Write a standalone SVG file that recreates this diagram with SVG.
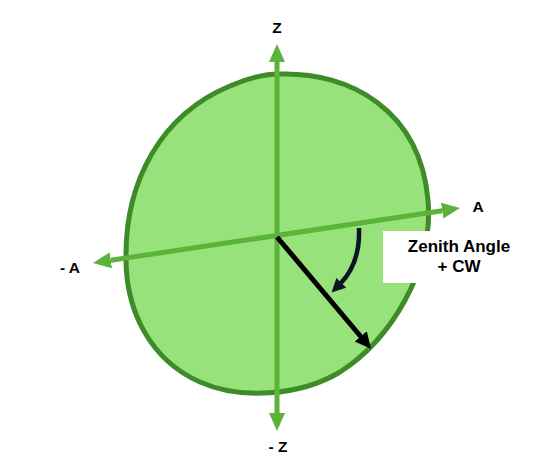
<svg xmlns="http://www.w3.org/2000/svg" width="542" height="476" viewBox="0 0 542 476">
<style>
.axis{stroke:#5bb33a;stroke-width:5;fill:none}
.lbl{font-family:"Liberation Sans",Arial,sans-serif;font-weight:bold;font-size:15.5px;fill:#000;text-anchor:middle}
.big{font-size:17px}
</style>
<defs>
<marker id="ga" markerUnits="userSpaceOnUse" markerWidth="20" markerHeight="18" refX="0" refY="8" orient="auto-start-reverse">
<path d="M0,0 L18,8 L0,16 Z" fill="#5bb33a"/>
</marker>
<marker id="ba" markerUnits="userSpaceOnUse" markerWidth="20" markerHeight="18" refX="2" refY="8" orient="auto">
<path d="M0,0 L16,8 L0,16 Z" fill="#000"/>
</marker>
<marker id="ca" markerUnits="userSpaceOnUse" markerWidth="18" markerHeight="16" refX="2" refY="7" orient="auto">
<path d="M0,0 L14,7 L0,14 Z" fill="#0a1625"/>
</marker>
</defs>
<g id="body">
<path d="M 280 74 C 350 72, 420 110, 428 200 C 434 270, 390 340, 340 372 C 300 396, 240 400, 200 382 C 150 360, 125 310, 126 255 C 126 182, 160 115, 230 86 C 248 78, 262 74, 280 74 Z" fill="#98e27b" stroke="#3e8b2a" stroke-width="5"/>
</g>
<g id="connectors">
<line class="axis" x1="277" y1="62" x2="277" y2="413" marker-start="url(#ga)" marker-end="url(#ga)"/>
<line class="axis" x1="110.8" y1="260.3" x2="442.2" y2="210.7" marker-start="url(#ga)" marker-end="url(#ga)"/>
<line x1="277" y1="237" x2="362" y2="338" stroke="#000" stroke-width="5" marker-end="url(#ba)"/>
<path d="M 359 228 C 360 255, 352 272, 340 284" fill="none" stroke="#0a1625" stroke-width="4.5" marker-end="url(#ca)"/>
</g>
<g id="box">
<rect x="383" y="231" width="135" height="52" fill="#fff"/>
<text class="lbl big" x="459" y="252">Zenith Angle</text>
<text class="lbl big" x="459" y="272">+ CW</text>
</g>
<g id="labels">
<text class="lbl" x="277" y="33">Z</text>
<text class="lbl" x="278" y="452">- Z</text>
<text class="lbl" x="478" y="212">A</text>
<text class="lbl" x="70" y="273">- A</text>
</g>
</svg>
